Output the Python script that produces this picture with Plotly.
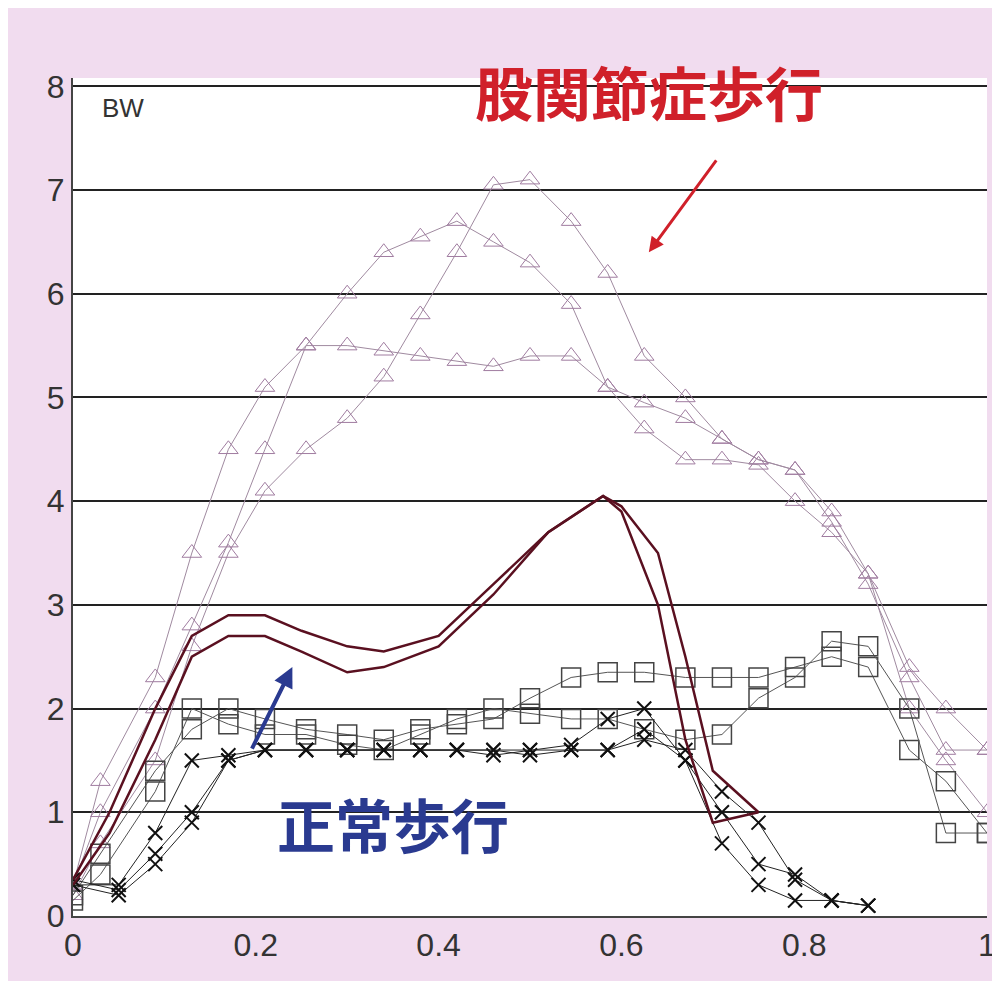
import plotly.graph_objects as go

xs = [0, 0.03, 0.09, 0.13, 0.17, 0.21, 0.255, 0.30, 0.34, 0.38, 0.42, 0.46, 0.50,
      0.545, 0.585, 0.625, 0.67, 0.71, 0.75, 0.79, 0.83, 0.87, 0.915, 0.955, 1.0]
tri_a = [0.3, 1.3, 2.3, 3.5, 4.5, 5.1, 5.5, 6.0, 6.4, 6.55, 6.7, 6.5, 6.3, 5.9, 5.1,
         4.95, 4.8, 4.6, 4.4, 4.3, 3.9, 3.3, 2.4, 2.0, 1.6]
tri_b = [0.2, 0.7, 1.5, 2.6, 3.5, 4.1, 4.5, 4.8, 5.2, 5.8, 6.4, 7.05, 7.1, 6.7, 6.2,
         5.4, 5.0, 4.6, 4.4, 4.3, 3.8, 3.2, 2.3, 1.6, 1.6]
tri_c = [0.3, 1.0, 2.0, 2.8, 3.6, 4.5, 5.5, 5.5, 5.45, 5.4, 5.35, 5.3, 5.4, 5.4, 5.1,
         4.7, 4.4, 4.4, 4.35, 4.0, 3.7, 3.3, 2.0, 1.5, 1.0]
sq_a = [0.2, 0.6, 1.4, 1.8, 2.0, 1.9, 1.8, 1.75, 1.7, 1.8, 1.85, 1.9, 2.1, 2.3, 2.35,
        2.35, 2.3, 2.3, 2.3, 2.4, 2.5, 2.4, 1.6, 1.3, 0.8]
sq_b = [0.15, 0.4, 1.2, 2.0, 1.85, 1.75, 1.75, 1.65, 1.6, 1.75, 1.9, 2.0, 1.95, 1.9,
        1.9, 1.8, 1.7, 1.75, 2.1, 2.3, 2.65, 2.6, 2.0, 0.8, 0.8]

xx = [0, 0.05, 0.09, 0.13, 0.17, 0.21, 0.255, 0.30, 0.34, 0.38, 0.42, 0.46, 0.50,
      0.545, 0.585, 0.625, 0.67, 0.71, 0.75, 0.79, 0.83, 0.87]
cr_a = [0.3, 0.3, 0.8, 1.5, 1.55, 1.6, 1.6, 1.6, 1.6, 1.6, 1.6, 1.55, 1.6, 1.65,
        1.9, 2.0, 1.5, 0.7, 0.3, 0.15, 0.15, 0.1]
cr_b = [0.35, 0.25, 0.6, 1.0, 1.5, 1.6, 1.6, 1.6, 1.6, 1.6, 1.6, 1.6, 1.55, 1.6,
        1.6, 1.8, 1.5, 1.0, 0.5, 0.4, 0.15, 0.1]
cr_c = [0.3, 0.2, 0.5, 0.9, 1.5, 1.6, 1.6, 1.6, 1.6, 1.6, 1.6, 1.6, 1.6, 1.6,
        1.6, 1.7, 1.6, 1.2, 0.9, 0.35, 0.15, 0.1]

lx = [0, 0.04, 0.09, 0.13, 0.17, 0.21, 0.25, 0.30, 0.34, 0.40, 0.46, 0.52, 0.58,
      0.60, 0.64, 0.67, 0.70, 0.75]
line_a = [0.35, 1.0, 2.0, 2.7, 2.9, 2.9, 2.75, 2.6, 2.55, 2.7, 3.2, 3.7, 4.05, 3.9,
          3.0, 1.7, 0.9, 1.0]
line_b = [0.3, 0.8, 1.7, 2.5, 2.7, 2.7, 2.55, 2.35, 2.4, 2.6, 3.1, 3.7, 4.05, 3.95,
          3.5, 2.5, 1.4, 1.0]

fig = go.Figure()
for y in (tri_a, tri_b, tri_c):
    fig.add_trace(go.Scatter(x=xs, y=y, mode="lines+markers",
        line=dict(color="#a08aa0", width=1),
        marker=dict(symbol="triangle-up-open", size=17, color="#a07ca0", line=dict(width=1))))
for y in (sq_a, sq_b):
    fig.add_trace(go.Scatter(x=xs, y=y, mode="lines+markers",
        line=dict(color="#555", width=1),
        marker=dict(symbol="square-open", size=19, color="#444", line=dict(width=1.5))))
for y in (cr_a, cr_b, cr_c):
    fig.add_trace(go.Scatter(x=xx, y=y, mode="lines+markers",
        line=dict(color="#222", width=1),
        marker=dict(symbol="x-thin-open", size=14, color="#111", line=dict(width=2, color="#111"))))
for y in (line_a, line_b):
    fig.add_trace(go.Scatter(x=lx, y=y, mode="lines", line=dict(color="#5a1020", width=2.5)))

fig.add_annotation(x=0.63, y=7.95, text="<b>股関節症歩行</b>", showarrow=False,
    font=dict(size=58, color="#d0202a", family="Noto Sans CJK JP"))
fig.add_annotation(x=0.63, y=6.4, ax=0.705, ay=7.3, xref="x", yref="y", axref="x", ayref="y",
    text="", showarrow=True, arrowhead=2, arrowwidth=3, arrowcolor="#d0202a")
fig.add_annotation(x=0.35, y=0.9, text="<b>正常歩行</b>", showarrow=False,
    font=dict(size=58, color="#2a3a90", family="Noto Sans CJK JP"))
fig.add_annotation(x=0.24, y=2.4, ax=0.195, ay=1.6, xref="x", yref="y", axref="x", ayref="y",
    text="", showarrow=True, arrowhead=2, arrowwidth=4, arrowcolor="#2a3a90")
fig.add_annotation(x=0.03, y=0.985, xref="paper", yref="paper", yanchor="top", xanchor="left",
    text="BW", showarrow=False, font=dict(size=26, color="#333"))

fig.update_layout(
    width=1000, height=981, showlegend=False,
    margin=dict(l=65, r=15, t=70, b=73),
    paper_bgcolor="#f1dcef", plot_bgcolor="white",
    font=dict(family="Liberation Sans", size=32, color="#333"),
    xaxis=dict(range=[0, 1], tickvals=[0, 0.2, 0.4, 0.6, 0.8, 1], ticktext=["0", "0.2", "0.4", "0.6", "0.8", "1"],
               showgrid=False, zeroline=False, showline=True, linecolor="#444", linewidth=2),
    yaxis=dict(range=[0, 8.08], tickvals=list(range(9)), showgrid=True, gridcolor="#222", gridwidth=1.5,
               zeroline=False, showline=True, linecolor="#444", linewidth=2),
)
fig.write_html("out.html")
